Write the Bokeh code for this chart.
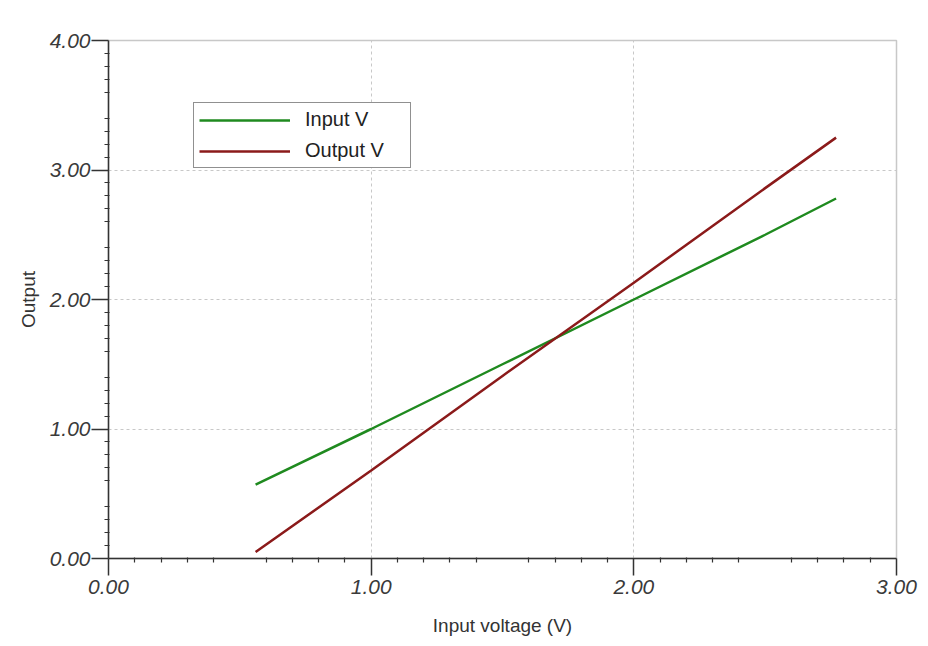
from bokeh.plotting import figure
from bokeh.models import (FixedTicker, LinearAxis, NumeralTickFormatter, Range1d,
                          Legend, LegendItem)
from bokeh.embed import file_html
from bokeh.resources import INLINE

# ---- data ----
input_voltage = [0.56, 1.00, 1.50, 2.00, 2.50, 2.77]
input_v = [0.57, 1.00, 1.50, 2.00, 2.50, 2.78]
output_v = [0.05, 0.68, 1.41, 2.13, 2.86, 3.25]
series_names = ["Input V", "Output V"]
x_ticks = [0, 1, 2, 3]
y_ticks = [0, 1, 2, 3, 4]
x_half = [0.5, 1.5, 2.5]
y_half = [0.5, 1.5, 2.5, 3.5]
x_minor = [i / 10 for i in range(0, 31) if i % 5 != 0]
y_minor = [i / 10 for i in range(0, 41) if i % 5 != 0]

GREEN = "#1f8a1f"
RED = "#8b1a1a"
AX = "#333333"
FONT = "Liberation Sans"

p = figure(width=920, height=638, output_backend="svg", toolbar_location=None,
           x_range=Range1d(0, 3), y_range=Range1d(0, 4),
           min_border_left=108, min_border_top=40, min_border_right=24,
           min_border_bottom=79)
p.background_fill_color = "white"
p.border_fill_color = "white"
p.outline_line_color = "#c8c8c8"
p.outline_line_width = 1.5

# grid
p.xgrid.ticker = FixedTicker(ticks=[1, 2])
p.ygrid.ticker = FixedTicker(ticks=[1, 2, 3])
for g in (p.xgrid, p.ygrid):
    g.grid_line_color = "#c8c8c8"
    g.grid_line_dash = "3 3"
    g.grid_line_width = 1

# main axes
p.xaxis.ticker = FixedTicker(ticks=x_ticks, minor_ticks=x_minor)
p.yaxis.ticker = FixedTicker(ticks=y_ticks, minor_ticks=y_minor)
for ax in (p.xaxis, p.yaxis):
    ax.formatter = NumeralTickFormatter(format="0.00")
    ax.axis_line_color = AX
    ax.axis_line_width = 1.5
    ax.major_tick_line_color = AX
    ax.major_tick_line_width = 1.5
    ax.major_tick_out = 17
    ax.major_tick_in = 0
    ax.minor_tick_line_color = AX
    ax.minor_tick_line_width = 1.2
    ax.minor_tick_out = 4
    ax.minor_tick_in = 1
    ax.major_label_text_font = FONT
    ax.major_label_text_font_style = "italic"
    ax.major_label_text_font_size = "21px"
    ax.major_label_text_color = "#3a3a3a"
    ax.axis_label_text_font = FONT
    ax.axis_label_text_font_style = "normal"
    ax.axis_label_text_font_size = "19px"
    ax.axis_label_text_color = "#333333"
p.xaxis.major_label_standoff = 4
p.yaxis.major_label_standoff = 1
p.xaxis.axis_label = "Input voltage (V)"
p.yaxis.axis_label = "Output"
p.xaxis.axis_label_standoff = 18
p.yaxis.axis_label_standoff = 8

# half-unit ticks (longer than minor ticks), no labels
hx = LinearAxis(ticker=FixedTicker(ticks=x_half), fixed_location=0,
                axis_line_color=None, major_tick_line_color=AX,
                major_tick_line_width=1.5, major_tick_out=9, major_tick_in=0,
                minor_tick_line_color=None,
                major_label_overrides={v: "" for v in x_half})
hy = LinearAxis(ticker=FixedTicker(ticks=y_half), fixed_location=0,
                axis_line_color=None, major_tick_line_color=AX,
                major_tick_line_width=1.5, major_tick_out=9, major_tick_in=0,
                minor_tick_line_color=None,
                major_label_overrides={v: "" for v in y_half})
p.add_layout(hx, "below")
p.add_layout(hy, "left")

r1 = p.line(input_voltage, input_v, line_color=GREEN, line_width=2.5)
r2 = p.line(input_voltage, output_v, line_color=RED, line_width=2.5)

legend = Legend(items=[LegendItem(label=series_names[0], renderers=[r1]),
                       LegendItem(label=series_names[1], renderers=[r2])],
                location=(85, 390))
legend.border_line_color = "#222222"
legend.border_line_width = 1.2
legend.background_fill_color = "white"
legend.background_fill_alpha = 1
legend.glyph_width = 91
legend.glyph_height = 20
legend.label_height = 20
legend.label_width = 100
legend.label_standoff = 15
legend.spacing = 8
legend.padding = 5
legend.margin = 0
legend.label_text_font = FONT
legend.label_text_font_size = "20px"
legend.label_text_color = "#222222"
p.add_layout(legend, "center")

open("out.html", "w").write(file_html(p, INLINE))
